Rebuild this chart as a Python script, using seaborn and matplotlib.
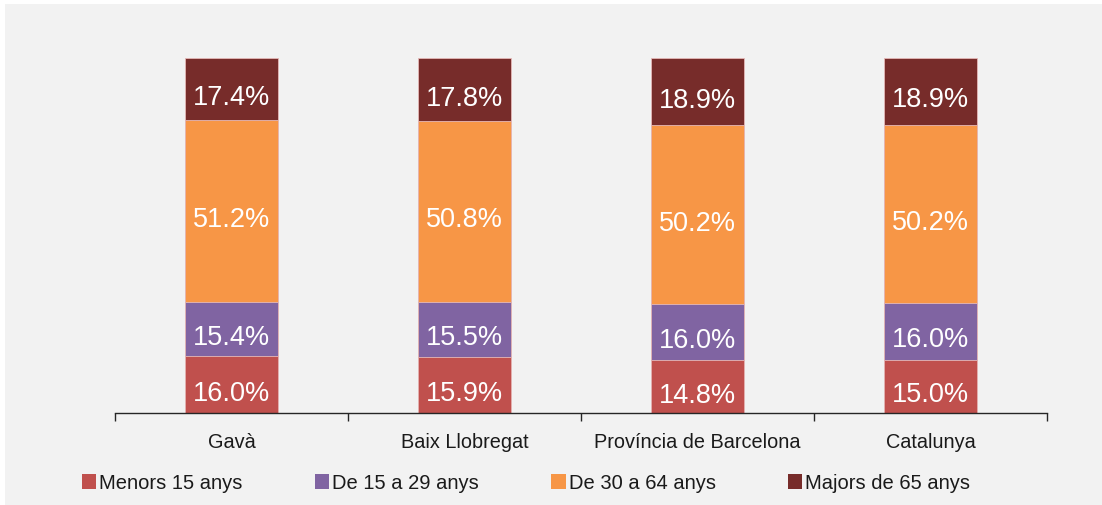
import numpy as np
import pandas as pd
import matplotlib
matplotlib.use("Agg")
import matplotlib.pyplot as plt
from matplotlib.patches import Rectangle, Patch
import seaborn as sns

# data
categories = ["Gavà", "Baix Llobregat", "Província de Barcelona", "Catalunya"]
series_names = ["Menors 15 anys", "De 15 a 29 anys", "De 30 a 64 anys", "Majors de 65 anys"]
menors_15 = [16.0, 15.9, 14.8, 15.0]
de_15_29 = [15.4, 15.5, 16.0, 16.0]
de_30_64 = [51.2, 50.8, 50.2, 50.2]
majors_65 = [17.4, 17.8, 18.9, 18.9]
colors = ["#C0504D", "#8064A2", "#F79646", "#772C2A"]

series = [menors_15, de_15_29, de_30_64, majors_65]
df = pd.DataFrame({name: vals for name, vals in zip(series_names, series)}, index=categories)
tops = df.cumsum(axis=1)
bottoms = tops - df

sns.set_theme(style="white")
plt.rcParams["font.family"] = ["Liberation Sans", "DejaVu Sans"]

fig = plt.figure(figsize=(11.02, 5.06), dpi=100)
fig.patch.set_facecolor("white")
fig.patches.append(Rectangle((5 / 1102, 0), 1, 501 / 506, transform=fig.transFigure,
                             facecolor="#F2F2F2", edgecolor="none", zorder=-10))

ax = fig.add_axes([115 / 1102, (506 - 414) / 506, (1047 - 115) / 1102, (414 - 59) / 506])
ax.set_facecolor("none")

# stacked bars: draw cumulative totals from the top segment down
for name, color in reversed(list(zip(series_names, colors))):
    plot_df = pd.DataFrame({"cat": categories, "val": tops[name].values})
    sns.barplot(data=plot_df, x="cat", y="val", color=color, width=0.4,
                saturation=1, edgecolor="#E6B9B8", linewidth=0.6, ax=ax)

# segment labels
for i, cat in enumerate(categories):
    for name in series_names:
        v = df.loc[cat, name]
        mid = bottoms.loc[cat, name] + v / 2
        ax.annotate(f"{v:.1f}%", (i, mid), xytext=(0, -8), textcoords="offset pixels",
                    ha="center", va="center", color="white", fontsize=19.5)

ax.set_xlim(-0.5, len(categories) - 0.5)
ax.set_ylim(0, 100)
ax.set_xlabel("")
ax.set_ylabel("")
ax.set_yticks([])
for s in ["top", "right", "left"]:
    ax.spines[s].set_visible(False)
ax.spines["bottom"].set_color("#262626")
ax.spines["bottom"].set_linewidth(1)

ax.set_xticks(np.arange(-0.5, len(categories)), minor=True)
ax.tick_params(axis="x", which="minor", length=6, width=1, color="#262626", direction="out", bottom=True)
ax.tick_params(axis="x", which="major", length=0, pad=14, labelsize=14.3, labelcolor="#1a1a1a")

handles = [Patch(facecolor=c, edgecolor="none") for c in colors]
fig.legend(handles, series_names, loc="center left", bbox_to_anchor=(64 / 1102, 22 / 506),
           ncol=4, frameon=False, fontsize=14.5, handlelength=0.7, handleheight=0.7,
           handletextpad=0.15, columnspacing=3.6, labelcolor="#1a1a1a")

fig.savefig("out.png", dpi=100)
